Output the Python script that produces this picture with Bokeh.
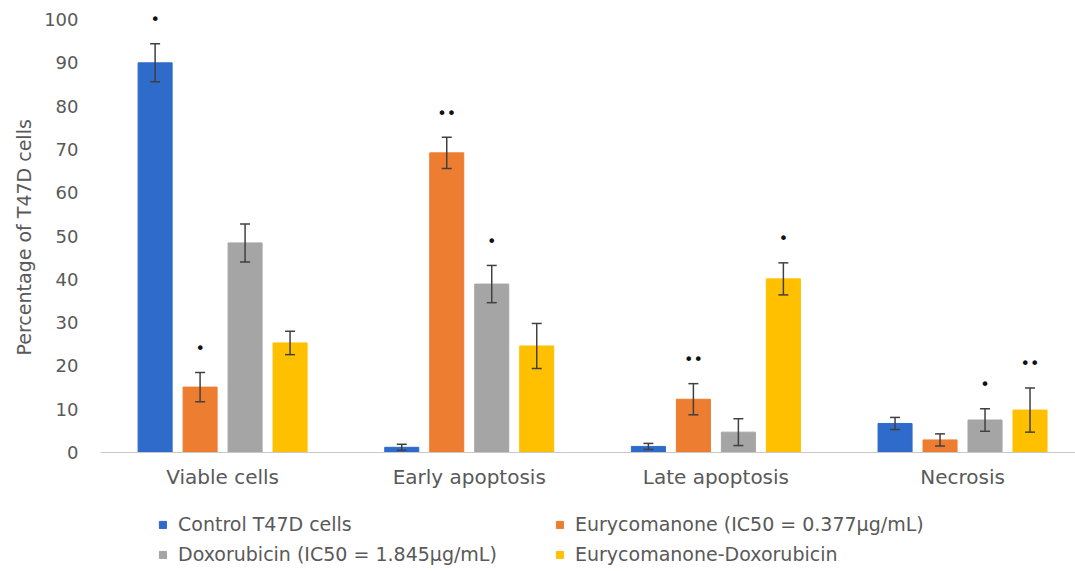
from bokeh.plotting import figure
from bokeh.models import (Range1d, FixedTicker, Whisker, ColumnDataSource, Legend,
                          LegendItem, TeeHead, Title)
from bokeh.core.properties import value
from bokeh.embed import file_html
from bokeh.resources import INLINE

categories = ["Viable cells", "Early apoptosis", "Late apoptosis", "Necrosis"]
series = ["Control T47D cells", "Eurycomanone (IC50 = 0.377μg/mL)",
          "Doxorubicin (IC50 = 1.845μg/mL)", "Eurycomanone-Doxorubicin"]
control = [90.0, 1.2, 1.4, 6.7]
control_err = [4.4, 0.7, 0.7, 1.4]
eury = [15.1, 69.2, 12.3, 2.9]
eury_err = [3.4, 3.6, 3.6, 1.4]
doxo = [48.4, 38.9, 4.7, 7.5]
doxo_err = [4.4, 4.3, 3.1, 2.6]
combo = [25.3, 24.6, 40.1, 9.8]
combo_err = [2.7, 5.2, 3.7, 5.1]
control_sig = ["•", "", "", ""]
eury_sig = ["•", "••", "••", ""]
doxo_sig = ["", "•", "", "•"]
combo_sig = ["", "", "•", "••"]
y_ticks = list(range(0, 101, 10))
y_title = "Percentage of T47D cells"

colors = ["#2F6BCB", "#ED7D31", "#A5A5A5", "#FFC000"]
FONT = "DejaVu Sans"
TXT = "#595959"

p = figure(width=1075, height=565, output_backend="svg", toolbar_location=None,
           x_range=Range1d(-0.495, 3.458), y_range=Range1d(-26.10, 103.93),
           min_border_left=100, min_border_top=2, min_border_bottom=0,
           min_border_right=0)
p.outline_line_color = None
p.xgrid.grid_line_color = None
p.ygrid.grid_line_color = None

data = [(control, control_err, control_sig), (eury, eury_err, eury_sig),
        (doxo, doxo_err, doxo_sig), (combo, combo_err, combo_sig)]
step = 0.1824
bar_w = 0.138
renderers = []
for k, (vals, errs, sigs) in enumerate(data):
    xs = [i + (k - 1.5) * step for i in range(len(categories))]
    src = ColumnDataSource(dict(x=xs, top=vals,
                                upper=[v + e for v, e in zip(vals, errs)],
                                lower=[v - e for v, e in zip(vals, errs)]))
    r = p.vbar(x="x", top="top", width=bar_w, bottom=0, source=src,
               fill_color=colors[k], line_color=colors[k])
    renderers.append(r)
    w = Whisker(base="x", upper="upper", lower="lower", source=src,
                line_color="#404040", line_width=1.5, level="annotation",
                upper_head=TeeHead(size=10, line_color="#404040", line_width=1.5),
                lower_head=TeeHead(size=10, line_color="#404040", line_width=1.5))
    p.add_layout(w)
    sx = [x for x, s in zip(xs, sigs) if s]
    sy = [v + e for v, e, s in zip(vals, errs, sigs) if s]
    st = [s for s in sigs if s]
    p.text(x=sx, y=sy, text=st, text_align="center", text_baseline="middle",
           y_offset=-24, text_font=value(FONT), text_font_size="16px",
           text_color="#111111")

p.xaxis.fixed_location = 0
p.xaxis.ticker = FixedTicker(ticks=list(range(len(categories))))
p.xaxis.major_label_overrides = {i: c for i, c in enumerate(categories)}
p.xaxis.major_tick_line_color = None
p.xaxis.minor_tick_line_color = None
p.xaxis.axis_line_color = "#C8C8C8"
p.xaxis.major_label_standoff = 7
p.xaxis.major_label_text_font = FONT
p.xaxis.major_label_text_font_size = "20px"
p.xaxis.major_label_text_color = TXT

p.yaxis.ticker = FixedTicker(ticks=y_ticks)
p.yaxis.axis_line_color = None
p.yaxis.major_tick_line_color = None
p.yaxis.minor_tick_line_color = None
p.yaxis.major_label_standoff = 16
p.yaxis.major_label_text_font = FONT
p.yaxis.major_label_text_font_size = "18px"
p.yaxis.major_label_text_color = TXT

ttl = Title(text=y_title, align="left", offset=210, standoff=14,
            text_font=FONT, text_font_size="19px", text_font_style="normal",
            text_color=TXT)
p.add_layout(ttl, "left")

for cols, vx in (((0, 2), 58), ((1, 3), 455)):
    leg = Legend(items=[LegendItem(label=series[c], renderers=[renderers[c]]) for c in cols],
                 location=(vx, 0), orientation="vertical",
                 background_fill_alpha=0, border_line_alpha=0, margin=0, padding=0,
                 glyph_width=9, glyph_height=9, label_standoff=11, spacing=8,
                 label_height=20, label_text_font=FONT, label_text_font_size="19px",
                 label_text_color=TXT)
    p.add_layout(leg)

open("out.html", "w").write(file_html(p, INLINE))
